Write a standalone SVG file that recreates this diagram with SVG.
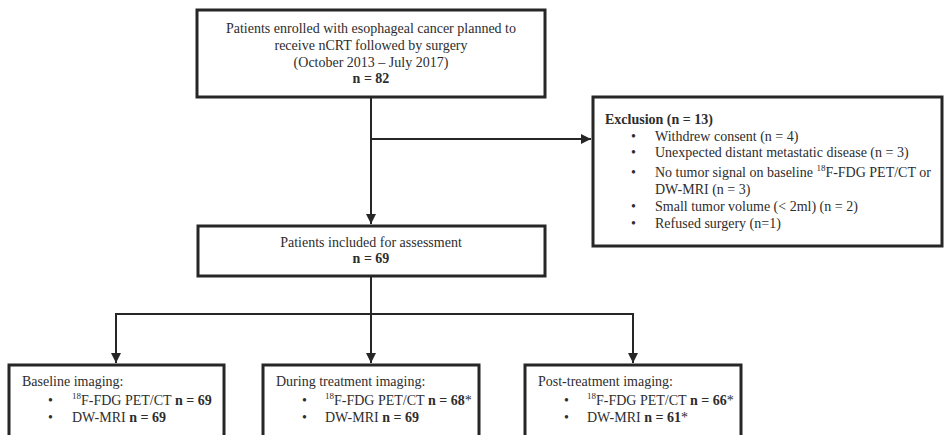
<svg xmlns="http://www.w3.org/2000/svg" width="944" height="435" viewBox="0 0 944 435">
<style>
.box{fill:#ffffff;stroke:#262626;stroke-width:3}
.conn{fill:none;stroke:#262626;stroke-width:2}
text{font-family:"Liberation Serif","Times New Roman",serif;font-size:14px;fill:#2d2d2d}
.c{text-anchor:middle}
.b{font-weight:bold}
.sup{font-size:9px}
</style>
<defs>
<marker id="arr" markerUnits="userSpaceOnUse" markerWidth="10" markerHeight="10" viewBox="0 0 10 10" refX="10" refY="5" orient="auto">
<path d="M0,0 L10,5 L0,10 z" fill="#262626"/>
</marker>
</defs>
<rect width="944" height="435" fill="#ffffff"/>
<g id="connectors">
<line class="conn" x1="371" y1="97" x2="371" y2="224" marker-end="url(#arr)"/>
<line class="conn" x1="371" y1="139" x2="591" y2="139" marker-end="url(#arr)"/>
<line class="conn" x1="371" y1="276" x2="371" y2="314"/>
<polyline class="conn" points="116,363 116,314 633,314 633,363" marker-end="url(#arr)"/>
<polyline class="conn" points="116,330 116,363" marker-end="url(#arr)"/>
<line class="conn" x1="371" y1="314" x2="371" y2="363" marker-end="url(#arr)"/>
</g>
<g id="enrolled">
<rect class="box" x="197" y="10" width="348" height="87"/>
<text class="c" x="371" y="33">Patients enrolled with esophageal cancer planned to</text>
<text class="c" x="371" y="50">receive nCRT followed by surgery</text>
<text class="c" x="371" y="67">(October 2013 – July 2017)</text>
<text class="c b" x="371" y="83">n = 82</text>
</g>
<g id="exclusion">
<rect class="box" x="593" y="97" width="349" height="149"/>
<text class="b" x="605" y="124">Exclusion (n = 13)</text>
<text x="631" y="141">•</text><text x="655" y="141">Withdrew consent (n = 4)</text>
<text x="631" y="157">•</text><text x="655" y="157">Unexpected distant metastatic disease (n = 3)</text>
<text x="631" y="177">•</text><text x="655" y="177">No tumor signal on baseline <tspan class="sup" dy="-6">18</tspan><tspan dy="6">F-FDG PET/CT or</tspan></text>
<text x="655" y="194">DW-MRI (n = 3)</text>
<text x="631" y="211">•</text><text x="655" y="211">Small tumor volume (&lt; 2ml) (n = 2)</text>
<text x="631" y="228">•</text><text x="655" y="228">Refused surgery (n=1)</text>
</g>
<g id="included">
<rect class="box" x="198" y="226" width="347" height="50"/>
<text class="c" x="371" y="247">Patients included for assessment</text>
<text class="c b" x="371" y="263">n = 69</text>
</g>
<g id="baseline">
<rect class="box" x="9" y="365" width="215" height="90"/>
<text x="22" y="386">Baseline imaging:</text>
<text x="48" y="405">•</text><text x="72" y="405"><tspan class="sup" dy="-6">18</tspan><tspan dy="6">F-FDG PET/CT </tspan><tspan class="b">n = 69</tspan></text>
<text x="48" y="422">•</text><text x="72" y="422">DW-MRI <tspan class="b">n = 69</tspan></text>
</g>
<g id="during">
<rect class="box" x="263" y="365" width="216" height="90"/>
<text x="276" y="386">During treatment imaging:</text>
<text x="302" y="405">•</text><text x="325" y="405"><tspan class="sup" dy="-6">18</tspan><tspan dy="6">F-FDG PET/CT </tspan><tspan class="b">n = 68</tspan>*</text>
<text x="302" y="422">•</text><text x="325" y="422">DW-MRI <tspan class="b">n = 69</tspan></text>
</g>
<g id="post">
<rect class="box" x="525" y="365" width="216" height="90"/>
<text x="538" y="386">Post-treatment imaging:</text>
<text x="564" y="405">•</text><text x="587" y="405"><tspan class="sup" dy="-6">18</tspan><tspan dy="6">F-FDG PET/CT </tspan><tspan class="b">n = 66</tspan>*</text>
<text x="564" y="422">•</text><text x="587" y="422">DW-MRI <tspan class="b">n = 61</tspan>*</text>
</g>
</svg>
